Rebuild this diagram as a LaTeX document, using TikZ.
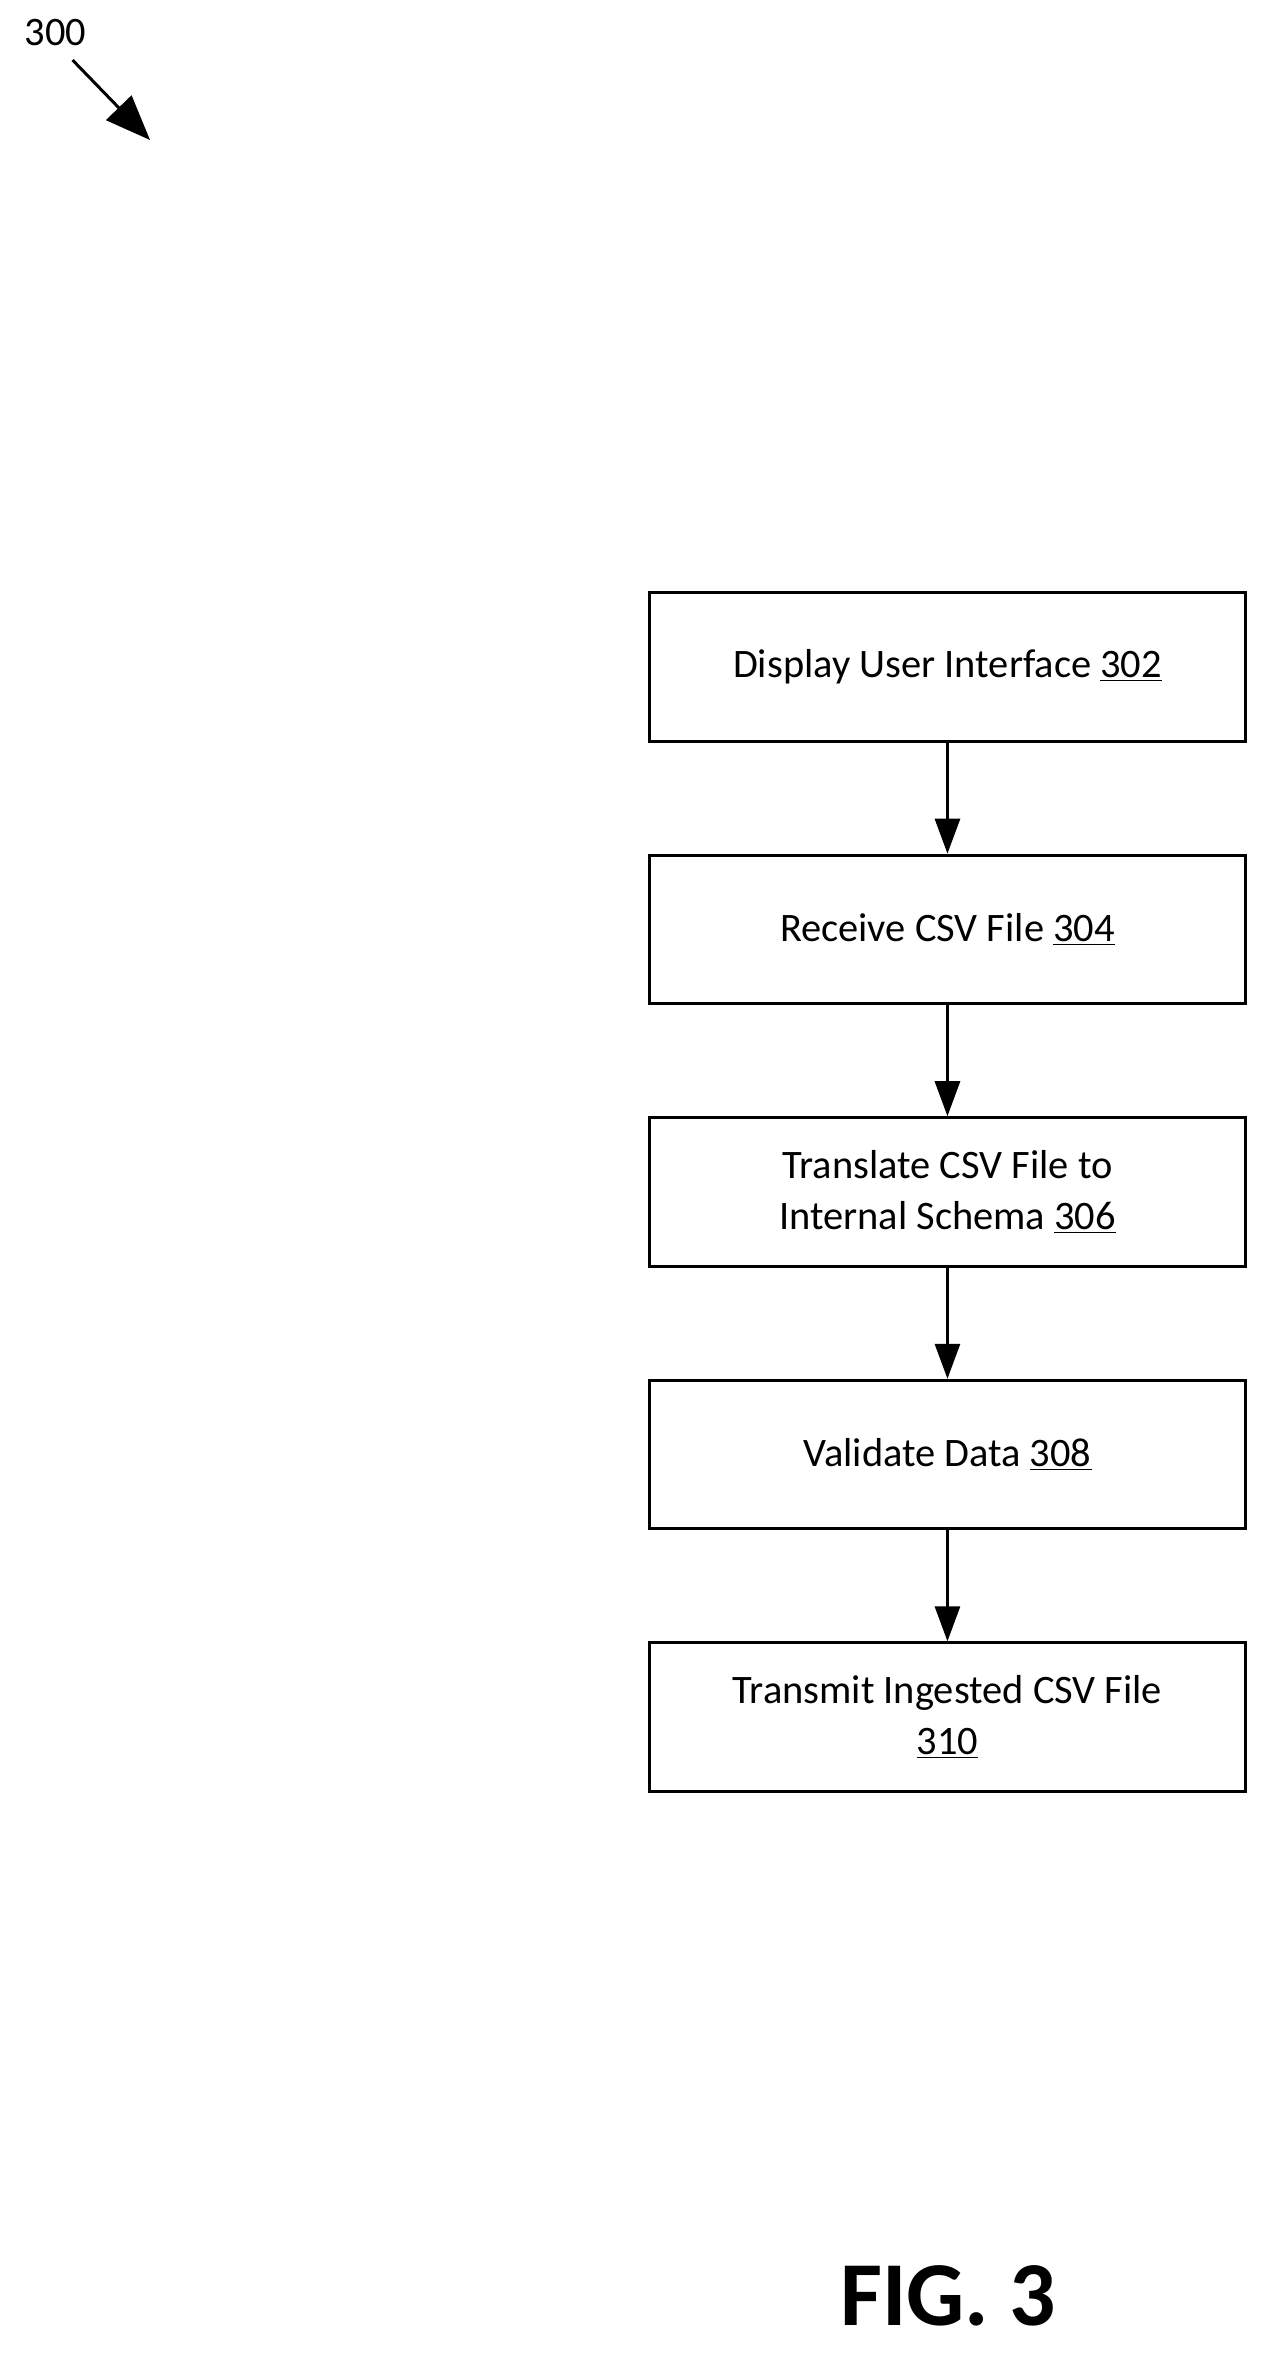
\documentclass[tikz,border=0pt]{standalone}
\usepackage{fontspec}
\setmainfont{Carlito}
\usetikzlibrary{arrows.meta,positioning}

\tikzset{
  stepbox/.style={draw, line width=1.7pt, minimum width=11.91cm, minimum height=2.97cm,
    align=center, font=\fontsize{23}{29}\selectfont},
  flow/.style={-{Triangle[length=7mm,width=5mm]}, line width=1.7pt}
}

\begin{document}
\begin{tikzpicture}

  \useasboundingbox (0,0) rectangle (25.59,-47.49);

  \node[stepbox] (s302) at (18.945,-13.335) {Display User Interface \underline{302}};
  \node[stepbox, below=2.22cm of s302] (s304) {Receive CSV File \underline{304}};
  \node[stepbox, below=2.22cm of s304] (s306) {Translate CSV File to\\Internal Schema \underline{306}};
  \node[stepbox, below=2.22cm of s306] (s308) {Validate Data \underline{308}};
  \node[stepbox, below=2.22cm of s308] (s310) {Transmit Ingested CSV File\\\underline{310}};

  \draw[flow] (s302) -- (s304);
  \draw[flow] (s304) -- (s306);
  \draw[flow] (s306) -- (s308);
  \draw[flow] (s308) -- (s310);

  \node[font=\fontsize{23}{29}\selectfont] (ref) at (1.11,-0.66) {300};
  \coordinate (tip) at (3.0,-2.8);
  \draw[-{Triangle[length=9mm,width=7mm]}, line width=1.7pt] (1.45,-1.2) -- (tip);

  \node[font=\fontsize{52}{60}\selectfont\bfseries] (fig) at (18.96,-45.9) {FIG. 3};

\end{tikzpicture}
\end{document}
